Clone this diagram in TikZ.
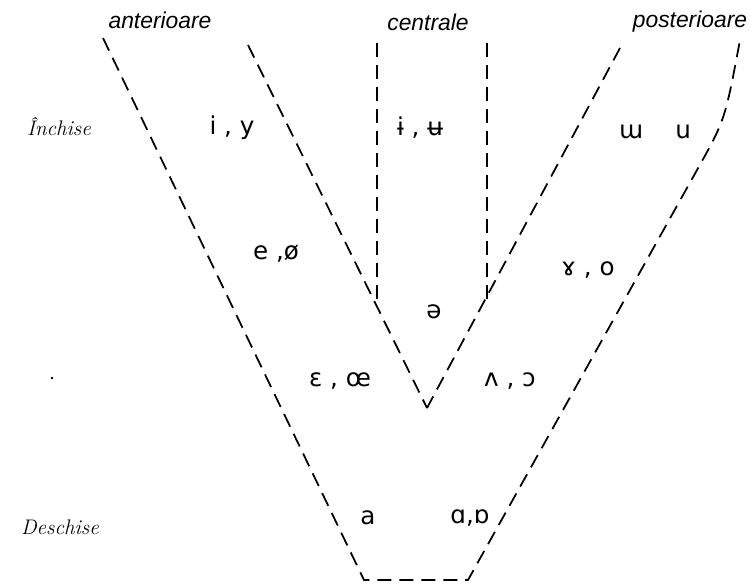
\documentclass[tikz,border=0pt]{standalone}
\usepackage{fontspec}
\newfontfamily\ipafont{DejaVu Sans}
\newfontfamily\letterfont{Liberation Sans}
\usepackage{xcolor}
\usepackage{tikz}
\usetikzlibrary{calc}
\tikzset{
  vowline/.style={line width=1pt,dash pattern=on 8pt off 4.5pt},
  vowsym/.style={font=\ipafont\fontsize{14}{16}\selectfont,inner sep=0pt},
  vowcol/.style={font=\letterfont\itshape\fontsize{13}{15}\selectfont,inner sep=0pt},
  vowrow/.style={font=\itshape\fontsize{12}{14}\selectfont,inner sep=0pt},
}

\begin{document}
\begin{tikzpicture}[x=0.02cm,y=-0.02cm]
\useasboundingbox (0,0) rectangle (750,583);
\coordinate (olt) at (103,38);
\coordinate (olb) at (364,580);
\coordinate (ort) at (740,40);
\coordinate (orc) at (725,120);
\coordinate (orm) at (697,170);
\coordinate (orb) at (468,580);
\coordinate (ilt) at (248,45);
\coordinate (irt) at (620,48);
\coordinate (vb) at (427,408);
\coordinate (clt) at (377,43);
\coordinate (clb) at (377,304);
\coordinate (crt) at (487,43);
\coordinate (crb) at (487,300);
\draw[vowline] (olt)--(olb)--(orb)--(orm) .. controls (orc) .. (ort);
\draw[vowline] (ilt)--(vb);
\draw[vowline] (irt)--(vb);
\draw[vowline] (clt)--(clb);
\draw[vowline] (crt)--(crb);
\node[vowcol] (ant) at (160,20) {anterioare};
\node[vowcol] (cen) at (428,22) {centrale};
\node[vowcol] (pos) at (690,22) {posterioare};
\node[vowrow] (inc) at (59,127) {Închise};
\node[vowrow] (des) at (60,527) {Deschise};
\fill (52,378) circle (1.3);
\node[vowsym] (iy) at (232,128) {i , y};
\node[vowsym] (ic) at (420,128) {ɨ , ʉ};
\node[vowsym] (ub) at (655,132) {ɯ \quad u};
\node[vowsym] (eo) at (276,254) {e ,ø};
\node[vowsym] (go) at (588,270) {ɤ , o};
\node[vowsym] (sw) at (434,312) {ə};
\node[vowsym] (ee) at (340,381) {ɛ , œ};
\node[vowsym] (vc) at (510,381) {ʌ , ɔ};
\node[vowsym] (af) at (368,518) {a};
\node[vowsym] (ab) at (470,518) {ɑ,ɒ};
\end{tikzpicture}
\end{document}
